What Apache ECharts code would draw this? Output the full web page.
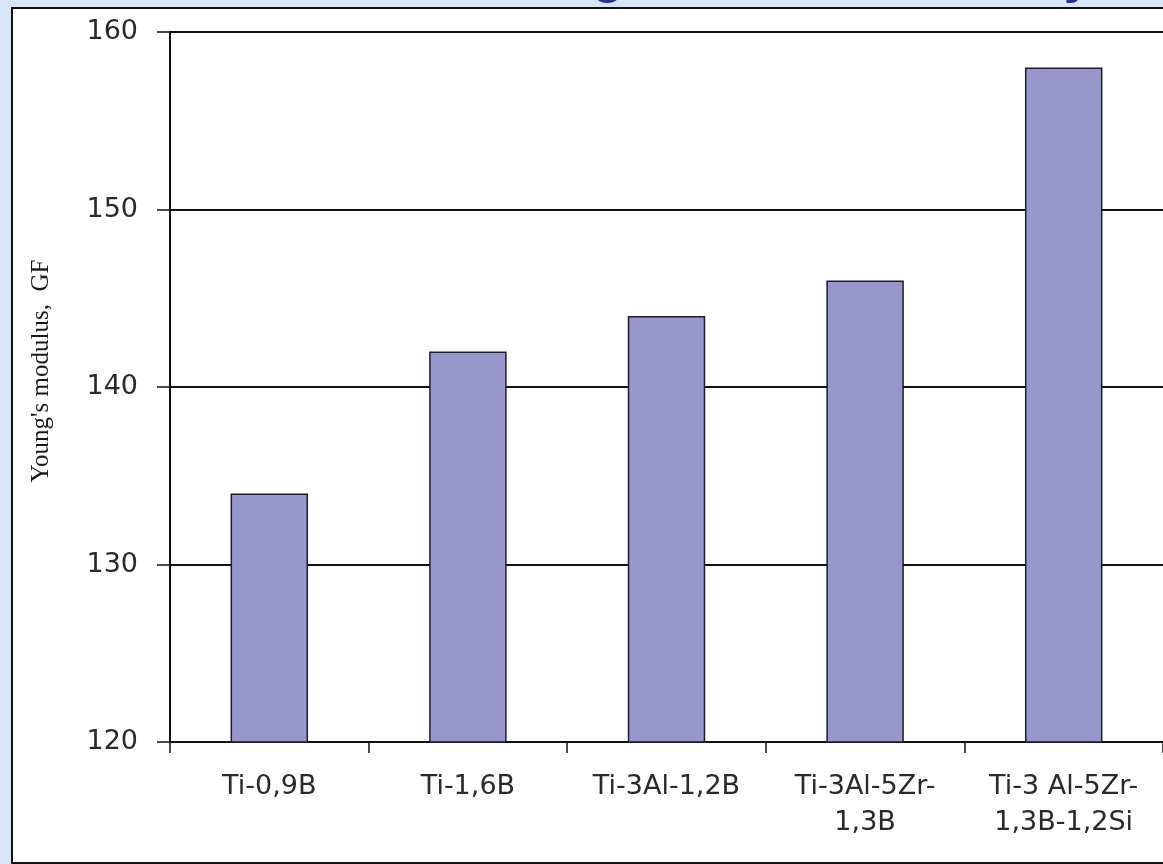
<!DOCTYPE html>
<html>
<head>
<meta charset="utf-8">
<title>Young's modulus of alloys</title>
<script src="https://cdn.jsdelivr.net/npm/echarts@6/dist/echarts.min.js"></script>
<style>
  html, body { margin: 0; padding: 0; background: #d7e5f4; }
  #chart { width: 1163px; height: 864px; }
</style>
</head>
<body>
<div id="chart"></div>
<script>
// Alloy grades along the x axis
const categories = ['Ti-0,9B', 'Ti-1,6B', 'Ti-3Al-1,2B', 'Ti-3Al-5Zr-\n1,3B', 'Ti-3 Al-5Zr-\n1,3B-1,2Si'];
// Young's modulus per alloy, GPa
const modulus = [134, 142, 144, 146, 158];
// Value axis range
const yMin = 120;
const yMax = 160;
const yStep = 10;

const chart = echarts.init(document.getElementById('chart'), null, { renderer: 'canvas' });

chart.setOption({
  backgroundColor: '#d7e5f4',
  animation: false,
  graphic: [
    {
      type: 'rect',
      z: -10,
      shape: { x: 12, y: 8, width: 1170, height: 855 },
      style: { fill: '#ffffff', stroke: '#111111', lineWidth: 2 }
    },
    {
      type: 'text',
      z: -5,
      style: {
        x: 466,
        y: -22,
        text: "Young's modulus of alloys",
        font: 'bold 52px "Liberation Sans", Arial, sans-serif',
        fill: '#2b2f8c',
        verticalAlign: 'middle'
      }
    }
  ],
  grid: { left: 170, top: 32, right: -3, bottom: 122, containLabel: false },
  xAxis: {
    type: 'category',
    data: categories,
    boundaryGap: true,
    axisLine: { show: true, lineStyle: { color: '#111', width: 2 } },
    axisTick: { show: true, inside: false, length: 11, interval: 0, alignWithLabel: false, lineStyle: { color: '#111', width: 1.5 } },
    axisLabel: {
      interval: 0,
      margin: 27,
      color: '#2a2a2a',
      fontFamily: '"DejaVu Sans", sans-serif',
      fontSize: 27,
      lineHeight: 36,
      align: 'center'
    },
    splitLine: { show: false }
  },
  yAxis: {
    type: 'value',
    min: yMin,
    max: yMax,
    interval: yStep,
    name: "Young's modulus,  GF",
    nameLocation: 'middle',
    nameGap: 116,
    nameRotate: 90,
    nameTextStyle: {
      color: '#1a1a1a',
      fontFamily: '"Liberation Serif", "Times New Roman", serif',
      fontSize: 25,
      padding: [0, 0, 0, 32]
    },
    axisLine: { show: true, lineStyle: { color: '#111', width: 2 } },
    axisTick: { show: true, inside: false, length: 13, lineStyle: { color: '#111', width: 1.5 } },
    axisLabel: {
      margin: 32,
      color: '#2a2a2a',
      fontFamily: '"DejaVu Sans", sans-serif',
      fontSize: 27
    },
    splitLine: { show: true, lineStyle: { color: '#111', width: 2 } }
  },
  series: [
    {
      type: 'bar',
      data: modulus,
      barWidth: '39%',
      itemStyle: { color: '#9797cb', borderColor: '#1c1c30', borderWidth: 1.5 }
    }
  ]
});
</script>
</body>
</html>
